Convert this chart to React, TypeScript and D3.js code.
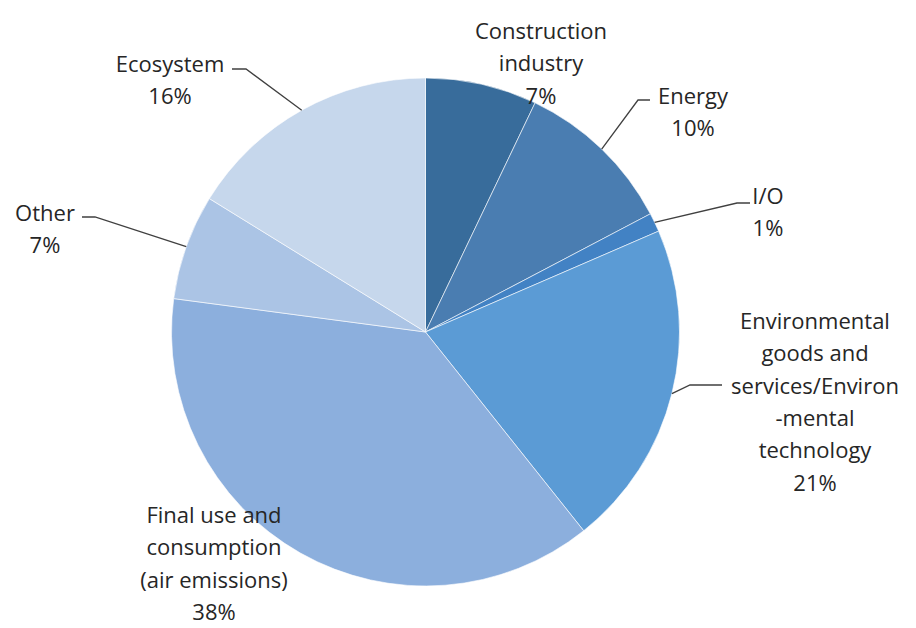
import React, { useEffect, useRef } from 'react';
import * as d3 from 'd3';

// shares (percent)
const categories = [
  'Construction industry',
  'Energy',
  'I/O',
  'Environmental goods and services/Environmental technology',
  'Final use and consumption (air emissions)',
  'Other',
  'Ecosystem',
];
const shares = [7.1, 10.2, 1.2, 20.8, 37.8, 6.7, 16.2];
const percentLabels = ['7%', '10%', '1%', '21%', '38%', '7%', '16%'];
const labelLines = [
  ['Construction', 'industry'],
  ['Energy'],
  ['I/O'],
  ['Environmental', 'goods and', 'services/Environ', '-mental', 'technology'],
  ['Final use and', 'consumption', '(air emissions)'],
  ['Other'],
  ['Ecosystem'],
];
const colors = ['#386c9b', '#4a7db1', '#4282c4', '#5b9bd5', '#8cafdd', '#abc4e5', '#c6d7ec'];

// hand-placed label layout (like the original chart)
const labelPos = [
  { x: 541, y: 30 },
  { x: 693, y: 95 },
  { x: 768, y: 195 },
  { x: 815, y: 320 },
  { x: 214, y: 514 },
  { x: 45, y: 212 },
  { x: 170, y: 63 },
];
// leader: elbow point and end point (null = no leader)
const leaders: ([number, number][] | null)[] = [
  null,
  [[638, 100], [650, 100]],
  [[737, 203], [750, 203]],
  [[690, 385], [722, 385]],
  null,
  [[95, 217], [82, 217]],
  [[246, 69], [232, 69]],
];

const W = 916;
const H = 628;

const App: React.FC = () => {
  const svgRef = useRef<SVGSVGElement>(null);

  useEffect(() => {
    if (!svgRef.current) return;
    const svg = d3.select(svgRef.current);
    svg.selectAll('*').remove();

    const cx = 425.5;
    const cy = 332;
    const radius = 254;
    const lineH = 32.3;

    const pie = d3.pie<number>().value(d => d).sort(null);
    const arc = d3.arc<d3.PieArcDatum<number>>().innerRadius(0).outerRadius(radius);
    const arcs = pie(shares);

    const g = svg.append('g').attr('transform', `translate(${cx},${cy})`);
    g.selectAll('path')
      .data(arcs)
      .enter()
      .append('path')
      .attr('d', arc)
      .attr('fill', (_, i) => colors[i])
      .attr('stroke', '#ffffff')
      .attr('stroke-opacity', 0.6)
      .attr('stroke-width', 1);

    // leader lines
    arcs.forEach((a, i) => {
      const pts = leaders[i];
      if (!pts) return;
      const mid = (a.startAngle + a.endAngle) / 2;
      const sx = cx + radius * Math.sin(mid);
      const sy = cy - radius * Math.cos(mid);
      const line = d3.line();
      svg.append('path')
        .attr('d', line([[sx, sy], ...pts]))
        .attr('fill', 'none')
        .attr('stroke', '#404040')
        .attr('stroke-width', 1.3);
    });

    // labels
    arcs.forEach((a, i) => {
      const lines = [...labelLines[i], percentLabels[i]];
      const t = svg.append('text')
        .attr('text-anchor', 'middle')
        .attr('font-family', '"Open Sans", sans-serif')
        .attr('font-size', 22)
        .attr('fill', '#262626');
      lines.forEach((ln, k) => {
        t.append('tspan')
          .attr('x', labelPos[i].x)
          .attr('y', labelPos[i].y + k * lineH)
          .attr('dominant-baseline', 'central')
          .text(ln);
      });
    });
  }, []);

  return (
    <svg
      ref={svgRef}
      width={W}
      height={H}
      viewBox={`0 0 ${W} ${H}`}
      style={{ position: 'absolute', left: 0, top: 0, background: '#ffffff' }}
      aria-label={categories.join(', ')}
    />
  );
};

export default App;
